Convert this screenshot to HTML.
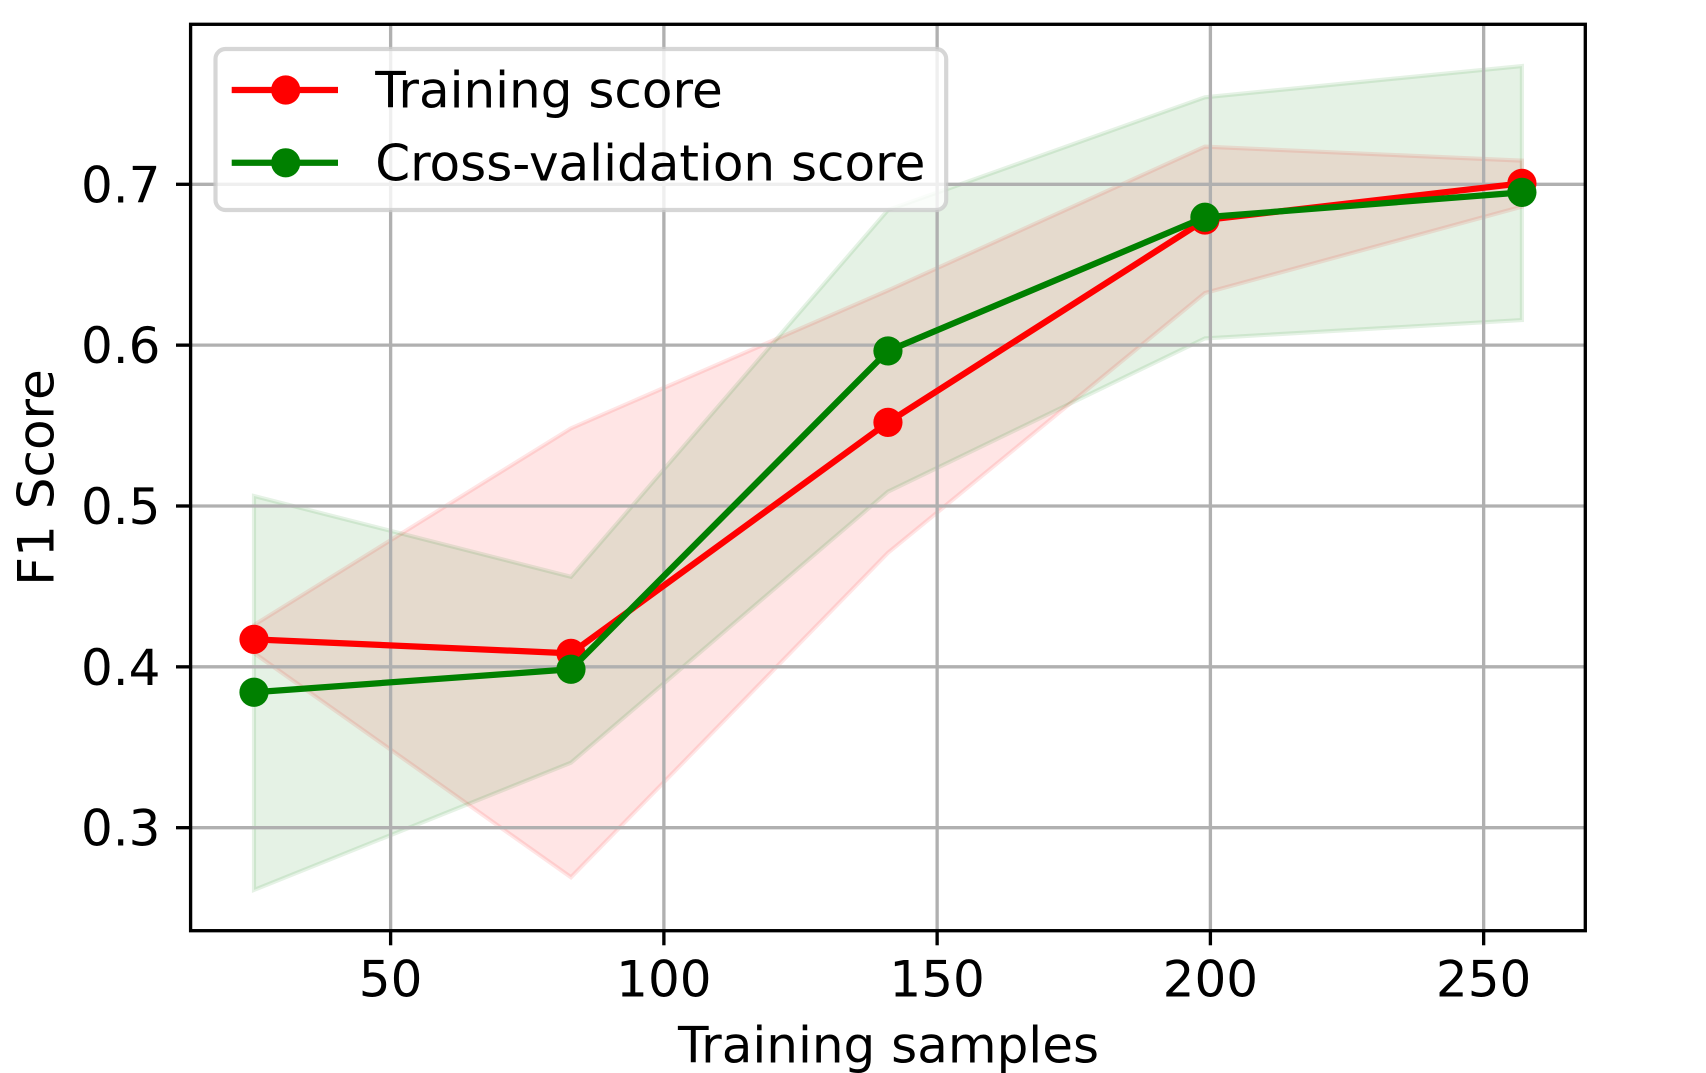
<!DOCTYPE html>
<html lang="en">
<head>
<meta charset="utf-8">
<title>Learning curve</title>
<style>
  html, body { margin: 0; padding: 0; background: #fff; }
  svg { display: block; }
  text { font-family: "DejaVu Sans", "Liberation Sans", sans-serif; fill: #000; }
</style>
</head>
<body>
<svg id="chart" xmlns="http://www.w3.org/2000/svg" width="1706" height="1073" viewBox="0 0 1706 1073">
  <rect x="0" y="0" width="1706" height="1073" fill="#ffffff"/>
  <g id="bands"></g>
  <g id="grid"></g>
  <g id="ticks"></g>
  <g id="series"></g>
  <rect x="190.6" y="24.3" width="1394.7" height="906.4" fill="none" stroke="#000" stroke-width="3.33"/>
  <g>
    <rect x="215.5" y="49" width="730.7" height="161" rx="10" ry="10" fill="#ffffff" fill-opacity="0.8" stroke="#cccccc" stroke-opacity="0.8" stroke-width="4.17"/>
    <line x1="231.7" y1="90" x2="338" y2="90" stroke="#ff0000" stroke-width="6.25"/>
    <circle cx="285.7" cy="90" r="14.6" fill="#ff0000"/>
    <text x="375.2" y="107.5" font-size="50">Training score</text>
    <line x1="231.7" y1="162.8" x2="338" y2="162.8" stroke="#008000" stroke-width="6.25"/>
    <circle cx="285.7" cy="162.8" r="14.6" fill="#008000"/>
    <text x="375.2" y="180.4" font-size="50">Cross-validation score</text>
  </g>
  <text x="888.5" y="1062.7" font-size="50" text-anchor="middle">Training samples</text>
  <text x="53.7" y="477.5" font-size="50" text-anchor="middle" transform="rotate(-90 53.7 477.5)">F1 Score</text>
</svg>
<script>
const trainingSamples = [25, 83, 141, 199, 257];
const trainMean = [0.4171, 0.4084, 0.5520, 0.6778, 0.7006];
const trainUpper = [0.4260, 0.5483, 0.6340, 0.7234, 0.7147];
const trainLower = [0.4086, 0.2692, 0.4709, 0.6324, 0.6861];
const cvMean = [0.3842, 0.3985, 0.5964, 0.6795, 0.6950];
const cvUpper = [0.5062, 0.4560, 0.6840, 0.7541, 0.7735];
const cvLower = [0.2613, 0.3404, 0.5089, 0.6042, 0.6156];
const xTickValues = [50, 100, 150, 200, 250];
const yTickValues = [0.3, 0.4, 0.5, 0.6, 0.7];
const xTickLabels = ["50", "100", "150", "200", "250"];
const yTickLabels = ["0.3", "0.4", "0.5", "0.6", "0.7"];

const SVG_NS = "http://www.w3.org/2000/svg";
const plot = { left: 190.6, right: 1585.3, top: 24.3, bottom: 930.7 };
const xDomain = { min: 13.4, max: 268.6 };
const yDomain = { min: 0.23596, max: 0.79947 };

function xScale(v) {
  return plot.left + (v - xDomain.min) / (xDomain.max - xDomain.min) * (plot.right - plot.left);
}
function yScale(v) {
  return plot.bottom - (v - yDomain.min) / (yDomain.max - yDomain.min) * (plot.bottom - plot.top);
}
function make(tag, attrs, parent) {
  const el = document.createElementNS(SVG_NS, tag);
  Object.keys(attrs).forEach(function (k) { el.setAttribute(k, attrs[k]); });
  parent.appendChild(el);
  return el;
}

const bandsLayer = document.getElementById("bands");
const gridLayer = document.getElementById("grid");
const ticksLayer = document.getElementById("ticks");
const seriesLayer = document.getElementById("series");

function bandPoints(xs, upper, lower) {
  const pts = [];
  xs.forEach(function (x, i) { pts.push(xScale(x) + "," + yScale(upper[i])); });
  for (let i = xs.length - 1; i >= 0; i--) { pts.push(xScale(xs[i]) + "," + yScale(lower[i])); }
  return pts.join(" ");
}
function drawBand(name, xs, upper, lower, color) {
  const el = make("polygon", {
    points: bandPoints(xs, upper, lower),
    fill: color, "fill-opacity": 0.1,
    stroke: color, "stroke-opacity": 0.1, "stroke-width": 4.17,
    "stroke-linejoin": "miter"
  }, bandsLayer);
  
  
}
drawBand("training-score-band", trainingSamples, trainUpper, trainLower, "#ff0000");
drawBand("cross-validation-score-band", trainingSamples, cvUpper, cvLower, "#008000");

xTickValues.forEach(function (v, i) {
  const x = xScale(v);
  const grid = make("line", { x1: x, x2: x, y1: plot.top, y2: plot.bottom, stroke: "#b0b0b0", "stroke-width": 3.33 }, gridLayer);
  
  
  const tick = make("line", { x1: x, x2: x, y1: plot.bottom, y2: plot.bottom + 14.6, stroke: "#000", "stroke-width": 3.33 }, ticksLayer);
  
  
  const label = make("text", { x: x, y: 996.7, "font-size": 50, "text-anchor": "middle" }, ticksLayer);
  label.textContent = xTickLabels[i];
  
  
});

yTickValues.forEach(function (v, i) {
  const y = yScale(v);
  const grid = make("line", { x1: plot.left, x2: plot.right, y1: y, y2: y, stroke: "#b0b0b0", "stroke-width": 3.33 }, gridLayer);
  
  
  const tick = make("line", { x1: plot.left - 14.6, x2: plot.left, y1: y, y2: y, stroke: "#000", "stroke-width": 3.33 }, ticksLayer);
  
  
  const label = make("text", { x: 160.5, y: y + 18, "font-size": 50, "text-anchor": "end" }, ticksLayer);
  label.textContent = yTickLabels[i];
  
  
});

function drawSeries(name, xs, ys, color) {
  const pts = xs.map(function (x, i) { return xScale(x) + "," + yScale(ys[i]); }).join(" ");
  const line = make("polyline", { points: pts, fill: "none", stroke: color, "stroke-width": 6.25, "stroke-linejoin": "round" }, seriesLayer);
  
  
  xs.forEach(function (x, i) {
    const dot = make("circle", { cx: xScale(x), cy: yScale(ys[i]), r: 14.6, fill: color }, seriesLayer);
    
    
  });
}
drawSeries("training-score", trainingSamples, trainMean, "#ff0000");
drawSeries("cross-validation-score", trainingSamples, cvMean, "#008000");
</script>
</body>
</html>
